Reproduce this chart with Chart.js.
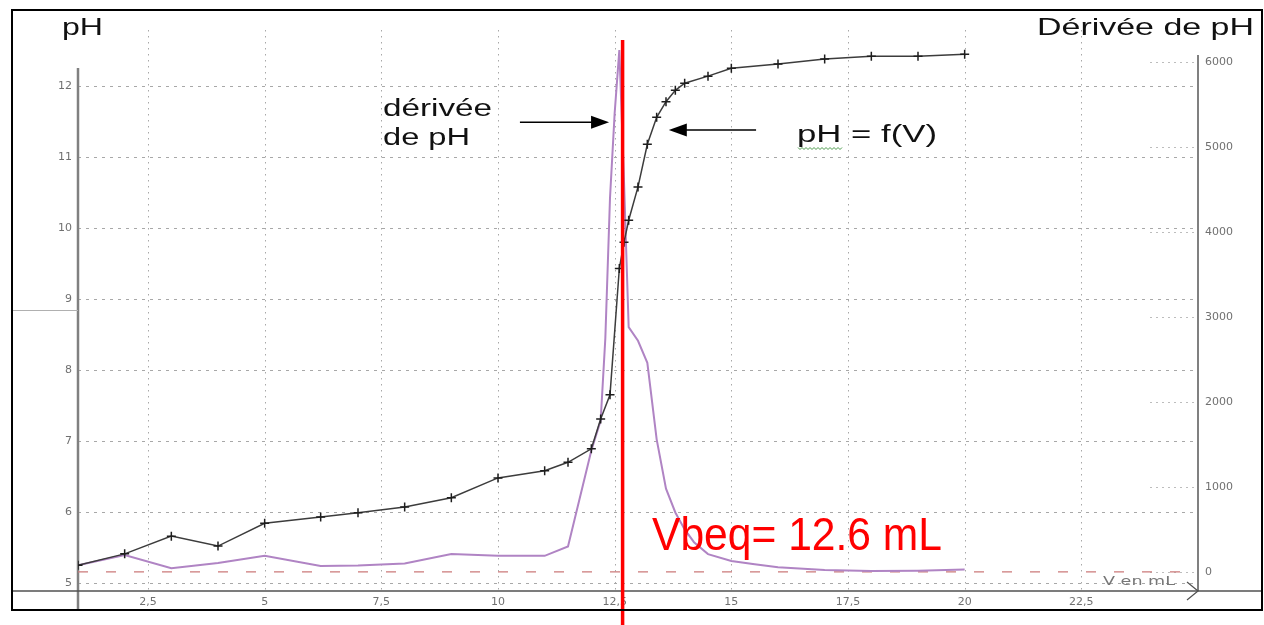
<!DOCTYPE html>
<html lang="fr">
<head>
<meta charset="utf-8">
<title>Dosage pH-métrique</title>
<script src="https://cdn.jsdelivr.net/npm/chart.js@4.4.1/dist/chart.umd.min.js"></script>
<style>
  html, body { margin: 0; padding: 0; background: #fff; }
  #wrap { position: relative; width: 1264px; height: 625px; }
</style>
</head>
<body>
<div id="wrap"><canvas id="titration-chart" width="1264" height="625"></canvas></div>
<script>
// pH = f(V) : volumes versés (mL) et pH lus
const phVolumes = [1, 2, 3, 4, 5, 6.2, 7, 8, 9, 10, 11, 11.5, 12, 12.2, 12.4, 12.6, 12.7, 12.8, 13, 13.2, 13.4, 13.6, 13.8, 14, 14.5, 15, 16, 17, 18, 19, 20];
const phValues = [5.25, 5.41, 5.66, 5.52, 5.84, 5.93, 5.99, 6.07, 6.2, 6.48, 6.58, 6.7, 6.89, 7.31, 7.65, 9.43, 9.8, 10.11, 10.58, 11.18, 11.56, 11.78, 11.94, 12.04, 12.14, 12.25, 12.31, 12.38, 12.42, 12.42, 12.45];

// dérivée de pH
const derivVolumes = [1, 2, 3, 4, 5, 6.2, 7, 8, 9, 10, 11, 11.5, 12, 12.2, 12.3, 12.4, 12.5, 12.6, 12.7, 12.8, 13, 13.2, 13.4, 13.6, 13.8, 14, 14.2, 14.5, 15, 15.5, 16, 17, 18, 19, 20];
const derivValues = [80, 200, 45, 105, 190, 70, 75, 100, 210, 190, 190, 300, 1430, 1780, 2750, 4400, 5400, 6140, 4600, 2880, 2720, 2460, 1560, 980, 700, 500, 350, 210, 130, 90, 55, 22, 10, 15, 30];

const xTicks = [2.5, 5, 7.5, 10, 12.5, 15, 17.5, 20, 22.5];
const phTicks = [5, 6, 7, 8, 9, 10, 11, 12];
const derivTicks = [0, 1000, 2000, 3000, 4000, 5000, 6000];
const vEquivalence = 12.67;

const tickFont = { family: 'DejaVu Sans', size: 11 };

function fitText(ctx, text, x, y, size, width, color, family) {
    ctx.font = size + 'px ' + (family || '"Liberation Sans"');
    const w = ctx.measureText(text).width;
    ctx.save();
    ctx.translate(x, y);
    ctx.scale(width / w, 1);
    ctx.fillStyle = color;
    ctx.textBaseline = 'alphabetic';
    ctx.fillText(text, 0, 0);
    ctx.restore();
}

function arrow(ctx, x1, y1, x2, y2) {
    const dir = Math.sign(x2 - x1);
    ctx.strokeStyle = '#000';
    ctx.fillStyle = '#000';
    ctx.lineWidth = 1.5;
    ctx.beginPath();
    ctx.moveTo(x1, y1);
    ctx.lineTo(x2 - dir * 16, y2);
    ctx.stroke();
    ctx.beginPath();
    ctx.moveTo(x2, y2);
    ctx.lineTo(x2 - dir * 18, y2 - 6.5);
    ctx.lineTo(x2 - dir * 18, y2 + 6.5);
    ctx.closePath();
    ctx.fill();
}

const decorPlugin = {
    id: 'decor',
    beforeDatasetsDraw(chart) {
        const ctx = chart.ctx;
        const area = chart.chartArea;
        const x = chart.scales.x, y = chart.scales.y, y2 = chart.scales.y2;
        ctx.save();
        ctx.lineWidth = 1;

        // quadrillage vertical
        ctx.strokeStyle = '#a8a8a8';
        ctx.setLineDash([1.5, 4.5]);
        xTicks.forEach(v => {
            const px = Math.round(x.getPixelForValue(v)) + 0.5;
            ctx.beginPath();
            ctx.moveTo(px, area.top);
            ctx.lineTo(px, area.bottom);
            ctx.stroke();
        });

        // quadrillage horizontal (pH)
        ctx.setLineDash([3, 5]);
        phTicks.forEach(v => {
            const py = Math.round(y.getPixelForValue(v)) + 0.5;
            ctx.beginPath();
            ctx.moveTo(area.left, py);
            ctx.lineTo(area.right - 3, py);
            ctx.stroke();
        });

        // repères de l'axe de droite
        ctx.strokeStyle = '#bdbdbd';
        ctx.setLineDash([2, 4]);
        derivTicks.forEach(v => {
            const py = Math.round(y2.getPixelForValue(v)) + 0.5;
            ctx.beginPath();
            ctx.moveTo(area.right - 48, py);
            ctx.lineTo(area.right - 3, py);
            ctx.stroke();
        });
        ctx.setLineDash([]);

        // axes
        ctx.strokeStyle = '#808080';
        ctx.lineWidth = 2.5;
        ctx.beginPath();
        ctx.moveTo(area.left, 68);
        ctx.lineTo(area.left, 610);
        ctx.stroke();
        ctx.lineWidth = 2;
        ctx.beginPath();
        ctx.moveTo(area.right, 55);
        ctx.lineTo(area.right, area.bottom);
        ctx.stroke();

        ctx.strokeStyle = '#505050';
        ctx.lineWidth = 1.5;
        ctx.beginPath();
        ctx.moveTo(12, area.bottom);
        ctx.lineTo(1262, area.bottom);
        ctx.stroke();
        ctx.lineWidth = 1.2;
        ctx.beginPath();
        ctx.moveTo(area.right - 11, area.bottom - 9);
        ctx.lineTo(area.right, area.bottom);
        ctx.lineTo(area.right - 11, area.bottom + 9);
        ctx.stroke();

        ctx.strokeStyle = '#b0b0b0';
        ctx.lineWidth = 1;
        ctx.beginPath();
        ctx.moveTo(12, 310.5);
        ctx.lineTo(area.left, 310.5);
        ctx.stroke();
        ctx.restore();
    },
    afterDatasetsDraw(chart) {
        const ctx = chart.ctx;
        const x = chart.scales.x, y = chart.scales.y;
        ctx.save();

        // textes
        fitText(ctx, 'pH', 62, 35, 24, 41, '#111');
        fitText(ctx, 'Dérivée de pH', 1037, 35, 24, 217, '#111');
        fitText(ctx, 'dérivée', 383, 116, 23, 109, '#111');
        fitText(ctx, 'de pH', 383, 145, 23, 87, '#111');
        fitText(ctx, 'pH = f(V)', 797, 142, 23, 140, '#111');
        fitText(ctx, 'V en mL', 1103, 585, 13, 72, '#777', '"DejaVu Sans"');

        // soulignement ondulé sous « pH »
        ctx.strokeStyle = '#4a9a4a';
        ctx.lineWidth = 1;
        ctx.beginPath();
        for (let i = 0; i <= 22; i++) {
            const px = 798 + i * 2;
            const py = 148 + (i % 2 ? 1.5 : -0.5);
            if (i === 0) ctx.moveTo(px, py); else ctx.lineTo(px, py);
        }
        ctx.stroke();

        // flèches
        arrow(ctx, x.getPixelForValue(10.47), y.getPixelForValue(11.49), x.getPixelForValue(12.38), y.getPixelForValue(11.49));
        arrow(ctx, x.getPixelForValue(15.53), y.getPixelForValue(11.38), x.getPixelForValue(13.66), y.getPixelForValue(11.38));

        // volume équivalent
        const vx = x.getPixelForValue(vEquivalence);
        ctx.strokeStyle = '#ff0000';
        ctx.lineWidth = 3.5;
        ctx.beginPath();
        ctx.moveTo(vx, 40);
        ctx.lineTo(vx, 625);
        ctx.stroke();
        fitText(ctx, 'Vbeq= 12.6 mL', 652, 550, 46, 290, '#ff0000');

        // cadre
        ctx.strokeStyle = '#000';
        ctx.lineWidth = 2;
        ctx.strokeRect(12, 10, 1250, 600);
        ctx.restore();
    }
};

const ctx = document.getElementById('titration-chart').getContext('2d');

new Chart(ctx, {
    type: 'line',
    data: {
        datasets: [{
            label: 'pH = f(V)',
            data: phVolumes.map((v, i) => ({ x: v, y: phValues[i] })),
            yAxisID: 'y',
            borderColor: '#3c3c3c',
            borderWidth: 1.5,
            pointStyle: 'cross',
            pointRadius: 4.5,
            pointBorderColor: '#1e1e1e',
            pointBorderWidth: 1.5,
            tension: 0
        }, {
            label: 'dérivée de pH',
            data: derivVolumes.map((v, i) => ({ x: v, y: derivValues[i] })),
            yAxisID: 'y2',
            borderColor: '#b084c4',
            borderWidth: 2,
            pointRadius: 0,
            tension: 0
        }, {
            label: 'zéro',
            data: [{ x: 1, y: 0 }, { x: 24.8, y: 0 }],
            yAxisID: 'y2',
            borderColor: '#cc7a7a',
            borderWidth: 1.3,
            borderDash: [10, 18],
            pointRadius: 0
        }]
    },
    options: {
        responsive: false,
        animation: false,
        layout: { padding: { top: 30, left: 0, right: 0, bottom: 0 } },
        plugins: {
            legend: { display: false },
            tooltip: { enabled: false }
        },
        scales: {
            x: {
                type: 'linear',
                min: 1,
                max: 25,
                afterBuildTicks: s => { s.ticks = xTicks.map(v => ({ value: v })); },
                afterFit: s => { s.height = 34; },
                grid: { display: false, drawTicks: false },
                border: { display: false },
                ticks: {
                    font: tickFont,
                    color: '#707070',
                    padding: 5,
                    maxRotation: 0,
                    autoSkip: false,
                    callback: v => String(v).replace('.', ',')
                }
            },
            y: {
                position: 'left',
                min: 4.887,
                max: 12.79,
                afterBuildTicks: s => { s.ticks = phTicks.map(v => ({ value: v })); },
                afterFit: s => { s.width = 78; },
                grid: { display: false, drawTicks: false },
                border: { display: false },
                ticks: { font: tickFont, color: '#707070', padding: 6, callback: v => String(v) }
            },
            y2: {
                position: 'right',
                min: -224,
                max: 6376,
                afterBuildTicks: s => { s.ticks = derivTicks.map(v => ({ value: v })); },
                afterFit: s => { s.width = 66; },
                grid: { display: false, drawTicks: false },
                border: { display: false },
                ticks: { font: tickFont, color: '#707070', padding: 7, callback: v => String(v) }
            }
        }
    },
    plugins: [decorPlugin]
});
</script>
</body>
</html>
